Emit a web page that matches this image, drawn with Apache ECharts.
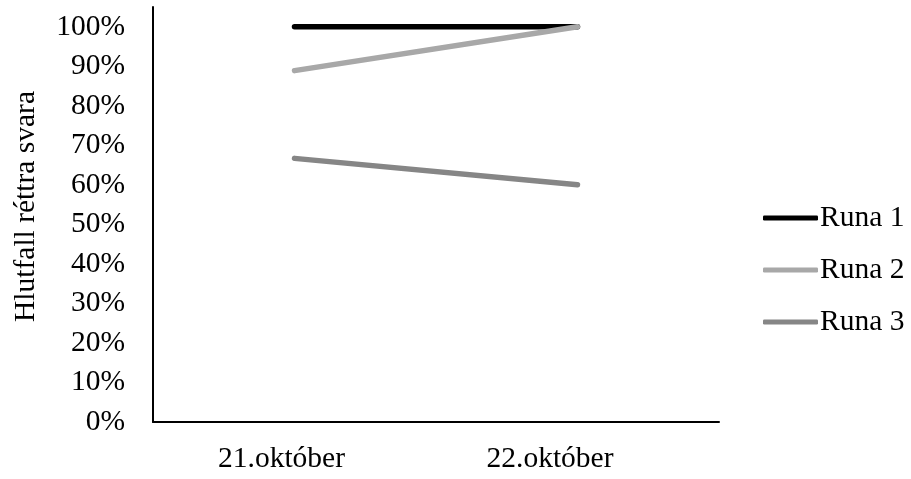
<!DOCTYPE html>
<html>
<head>
<meta charset="utf-8">
<script src="https://cdn.jsdelivr.net/npm/echarts@6/dist/echarts.min.js"></script>
<style>
  html, body { margin: 0; padding: 0; background: #fff; }
  #chart { width: 911px; height: 479px; }
</style>
</head>
<body>
<div id="chart"></div>
<script>
// Dates on the category axis
const categories = ['21.október', '22.október'];

// Share of correct answers per round, in percent
const runa1 = [100, 100];
const runa2 = [88.9, 100];
const runa3 = [66.7, 60];

const seriesNames = ['Runa 1', 'Runa 2', 'Runa 3'];
const seriesColors = ['#000000', '#a8a8a8', '#868686'];

const yTicks = [0, 10, 20, 30, 40, 50, 60, 70, 80, 90, 100];

const FONT = '"Liberation Serif", "Times New Roman", serif';
const FS = 29.5;

const chart = echarts.init(document.getElementById('chart'));

// Shift each date label so it sits where the original layout puts it
const labelPads = [[0, 26, 0, 0], [0, 55, 0, 0]];

function lineSeries(name, data, color) {
  return {
    name: name,
    type: 'line',
    data: data,
    showSymbol: false,
    symbol: 'none',
    lineStyle: { color: color, width: 5.5, cap: 'round' },
    itemStyle: { color: color },
    emphasis: { disabled: true },
    animation: false
  };
}

chart.setOption({
  backgroundColor: '#ffffff',
  animation: false,
  grid: { left: 153, right: 192, top: 7, bottom: 57, containLabel: false },
  legend: {
    orient: 'vertical',
    left: 758,
    top: 198,
    itemWidth: 55,
    itemHeight: 5,
    itemGap: 22,
    icon: 'roundRect',
    data: seriesNames,
    textStyle: { fontFamily: FONT, fontSize: FS, color: '#000', lineHeight: 30, padding: [0, 0, 0, -3] }
  },
  xAxis: {
    type: 'category',
    boundaryGap: true,
    data: categories.map((c, i) => ({ value: c, textStyle: { padding: labelPads[i] } })),
    axisLine: { lineStyle: { color: '#000', width: 2 } },
    axisTick: { show: false },
    axisLabel: { fontFamily: FONT, fontSize: FS, color: '#000', margin: 22 }
  },
  yAxis: {
    type: 'value',
    min: 0,
    max: 105,
    interval: 10,
    name: 'Hlutfall réttra svara',
    nameLocation: 'middle',
    nameGap: 112,
    nameTextStyle: { fontFamily: FONT, fontSize: FS, color: '#000', padding: [0, 0, 0, 16] },
    axisLine: { show: true, lineStyle: { color: '#000', width: 2 } },
    axisTick: { show: false },
    splitLine: { show: false },
    axisLabel: {
      fontFamily: FONT, fontSize: FS, color: '#000', margin: 28,
      showMaxLabel: false,
      formatter: v => (yTicks.includes(v) ? v + '%' : '')
    }
  },
  series: [
    lineSeries(seriesNames[0], runa1, seriesColors[0]),
    lineSeries(seriesNames[1], runa2, seriesColors[1]),
    lineSeries(seriesNames[2], runa3, seriesColors[2])
  ]
});
</script>
</body>
</html>
